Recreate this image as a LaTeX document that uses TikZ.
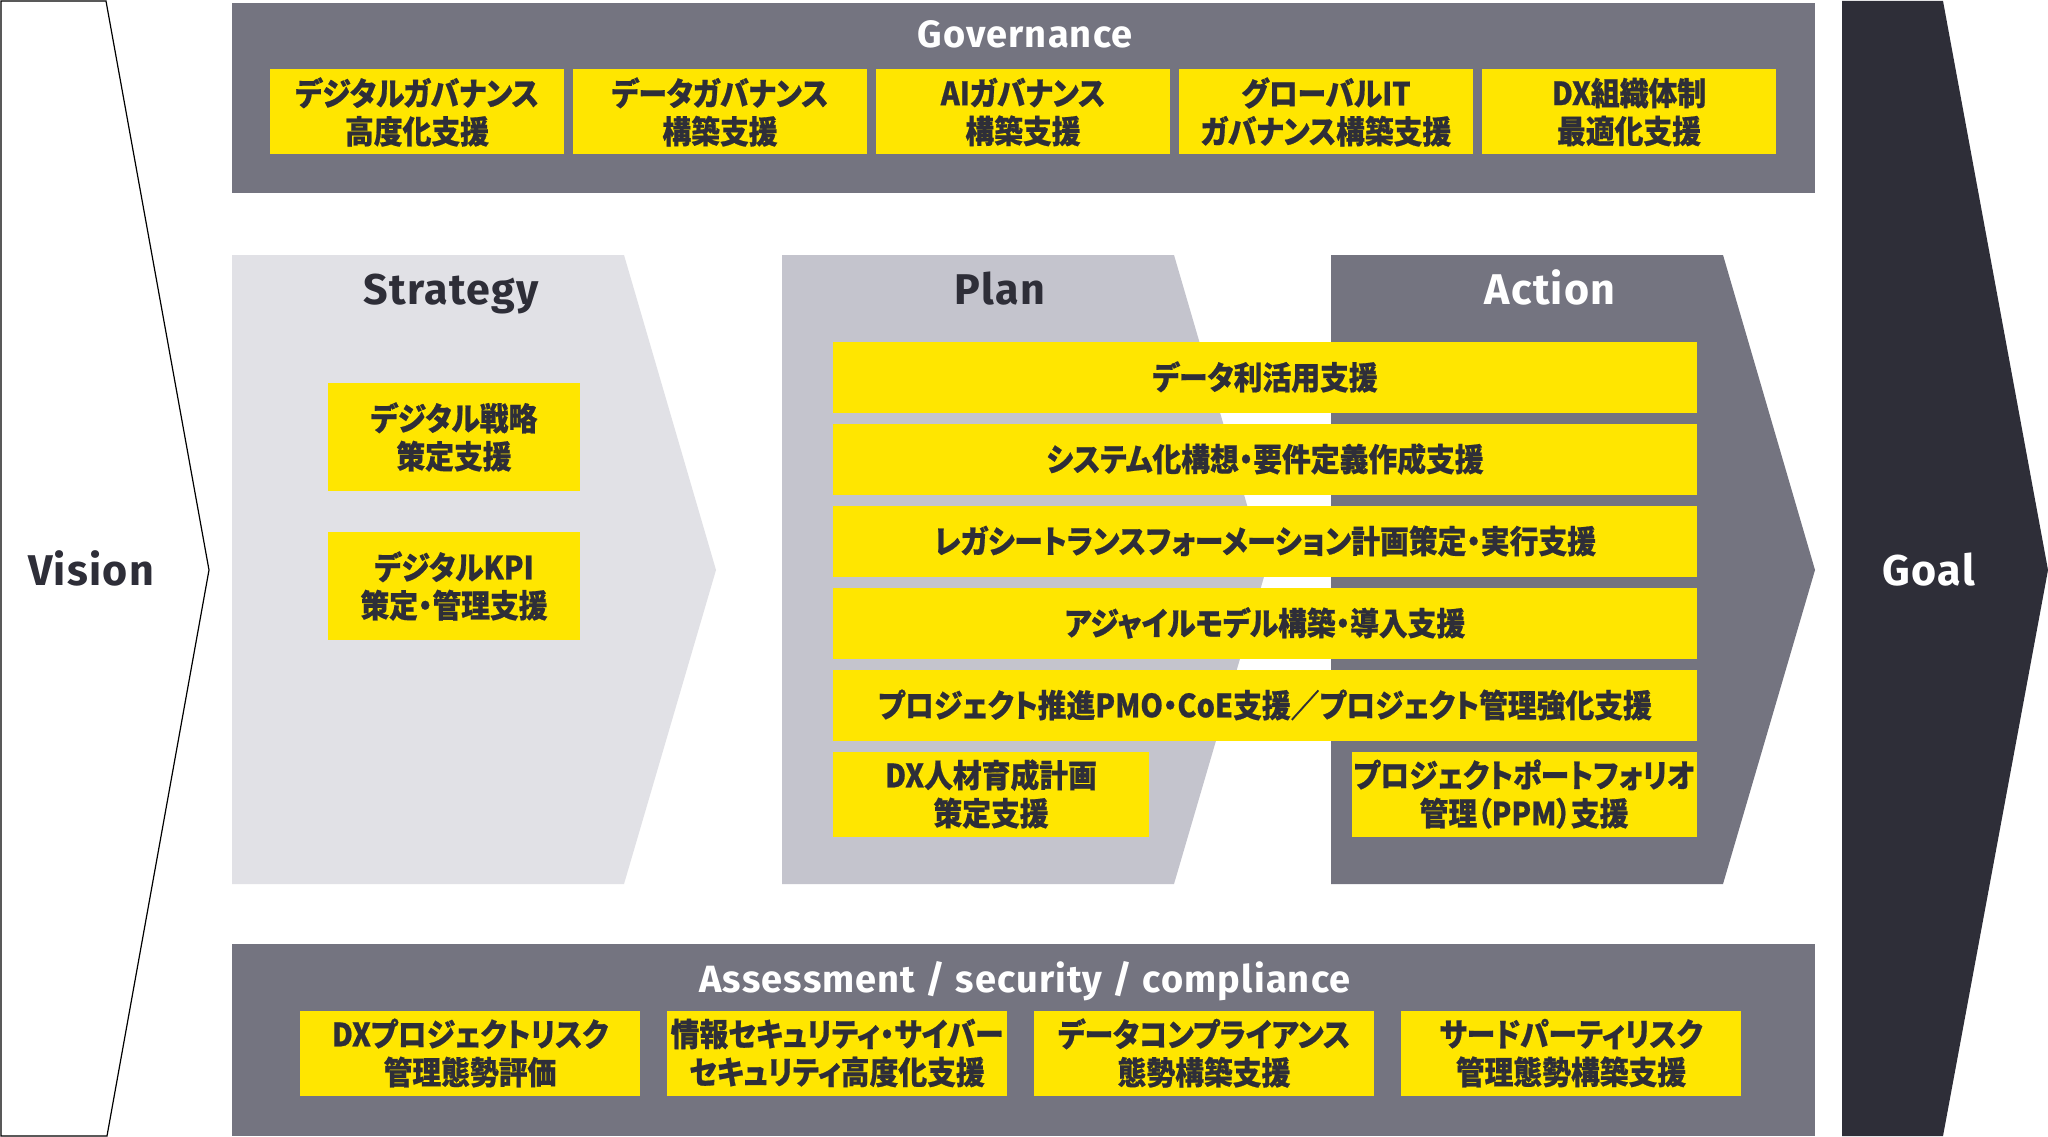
\documentclass[tikz,border=0pt]{standalone}
\usepackage{fontspec}
\setmainfont{Fira Sans}
\newfontfamily\jpfont{Noto Sans CJK JP}[FakeStretch=0.9, FakeBold=0.6, RawFeature=+palt]
\definecolor{eyyellow}{HTML}{FFE600}
\definecolor{eydark}{HTML}{2E2E38}
\definecolor{eygrey}{HTML}{747480}
\definecolor{eylight}{HTML}{E1E1E6}
\definecolor{eymid}{HTML}{C4C4CD}

\begin{document}
\begin{tikzpicture}[x=1pt, y=-1pt,
    ybox/.style={rectangle, fill=eyyellow, inner sep=0pt, text=eydark, align=center,
      font=\jpfont\bfseries\fontsize{32}{38}\selectfont},
    gbox/.style={ybox, minimum width=294pt, minimum height=85pt},
    sbox/.style={ybox, minimum width=252pt, minimum height=108pt},
    bar/.style={ybox, minimum width=864pt, minimum height=71pt},
    abox/.style={ybox, minimum width=340pt, minimum height=85pt},
    ttl/.style={inner sep=0pt, anchor=base, font=\bfseries\fontsize{38}{40}\selectfont\addfontfeature{LetterSpace=3}},
    bigttl/.style={inner sep=0pt, anchor=base, font=\bfseries\fontsize{43}{44}\selectfont\addfontfeature{LetterSpace=3}},
  ]
    % 背景を描画
    \fill[white] (0,0) rectangle (2048,1137);
    \useasboundingbox (0,0) rectangle (2048,1137);
    \draw[line width=1.2pt, fill=white] (1,1) -- (106,1) -- (209,570) -- (107,1136) -- (1,1136) -- cycle;
    \fill[eydark] (1842,1) -- (1943,1) -- (2048,570) -- (1943,1136) -- (1842,1136) -- cycle;
    \fill[eygrey] (232,3) rectangle (1815,193);
    \fill[eygrey] (232,944) rectangle (1815,1136);
    \fill[eylight] (232,255) -- (624,255) -- (716,570) -- (624,884) -- (232,884) -- cycle;
    \fill[eymid] (782,255) -- (1174,255) -- (1266,570) -- (1174,884) -- (782,884) -- cycle;
    \fill[eygrey] (1331,255) -- (1723,255) -- (1815,570) -- (1723,884) -- (1331,884) -- cycle;

    % 見出しを描画
    \node[bigttl, text=eydark] (vision) at (91,585) {Vision};
    \node[bigttl, text=white] (goal) at (1929,585) {Goal};
    \node[ttl, text=white] (gov) at (1025,48) {Governance};
    \node[bigttl, text=eydark] (strat) at (451,304) {Strategy};
    \node[bigttl, text=eydark] (plan) at (1000,304) {Plan};
    \node[bigttl, text=white] (act) at (1550,304) {Action};
    \node[ttl, text=white] (asm) at (1025,992) {Assessment / security / compliance};

    % ノードを描画
    \node[gbox] (g1) at (417,112) {デジタルガバナンス\\高度化支援};
    \node[gbox] (g2) at (720,112) {データガバナンス\\構築支援};
    \node[gbox] (g3) at (1023,112) {AIガバナンス\\構築支援};
    \node[gbox] (g4) at (1326,112) {グローバルIT\\ガバナンス構築支援};
    \node[gbox] (g5) at (1629,112) {DX組織体制\\最適化支援};

    \node[sbox] (s1) at (454,437) {デジタル戦略\\策定支援};
    \node[sbox] (s2) at (454,586) {デジタルKPI\\策定・管理支援};

    \node[bar] (p1) at (1265,377) {データ利活用支援};
    \node[bar] (p2) at (1265,459) {システム化構想・要件定義作成支援};
    \node[bar] (p3) at (1265,541) {レガシートランスフォーメーション計画策定・実行支援};
    \node[bar] (p4) at (1265,623) {アジャイルモデル構築・導入支援};
    \node[bar] (p5) at (1265,705) {プロジェクト推進PMO・CoE支援／プロジェクト管理強化支援};
    \node[ybox, minimum width=316pt, minimum height=85pt] (p6) at (991,794) {DX人材育成計画\\策定支援};
    \node[ybox, minimum width=345pt, minimum height=85pt] (a6) at (1524,794) {プロジェクトポートフォリオ\\管理（PPM）支援};

    \node[abox] (r1) at (470,1053) {DXプロジェクトリスク\\管理態勢評価};
    \node[abox] (r2) at (837,1053) {情報セキュリティ・サイバー\\セキュリティ高度化支援};
    \node[abox] (r3) at (1204,1053) {データコンプライアンス\\態勢構築支援};
    \node[abox] (r4) at (1571,1053) {サードパーティリスク\\管理態勢構築支援};
\end{tikzpicture}
\end{document}
